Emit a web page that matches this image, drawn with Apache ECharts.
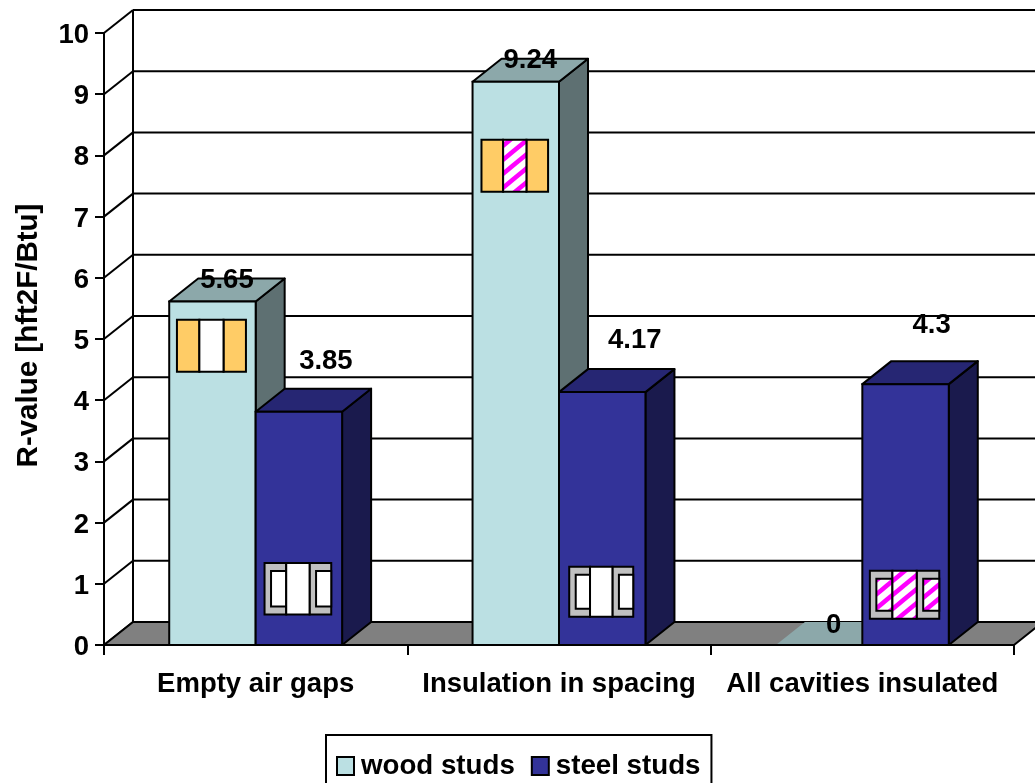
<!DOCTYPE html>
<html>
<head>
<meta charset="utf-8">
<style>
  html, body { margin: 0; padding: 0; background: #fff; overflow: hidden; }
  #chart { width: 1035px; height: 783px; }
</style>
<script src="https://cdn.jsdelivr.net/npm/echarts@6/dist/echarts.min.js"></script>
</head>
<body>
<div id="chart"></div>
<script>
// data
const categories = ["Empty air gaps", "Insulation in spacing", "All cavities insulated"];
const yTicks = [0, 1, 2, 3, 4, 5, 6, 7, 8, 9, 10];
const woodStuds = [5.65, 9.24, 0];
const steelStuds = [3.85, 4.17, 4.3];
const seriesNames = ["wood studs", "steel studs"];

// look of the extruded bars
const DEPTH_X = 29;
const DEPTH_Y = 23;
const BAR_RATIO = 0.285;
const TOP_DROP = 2.3; // the original's bar tops sit a touch under the scale
const FONT = 'bold 27.5px "Liberation Sans", Arial, sans-serif';
const woodColors = { front: "#BBE0E3", top: "#8CA8AA", side: "#5E7072" };
const steelColors = { front: "#333399", top: "#262673", side: "#1A1A4D" };

// the steel labels were dragged away from their bars in the original
const woodLabelShift = [[0, 1.5], [0, 2], [0, 1]];
const steelLabelShift = [[12.5, -27], [18, -29], [11.5, -36]];

// little wall section pictures sitting on the bars
// centre is in axis units, cavity: 0 empty, 1 insulated
const woodInsetCentre = [4.89, 7.83];
const woodInsetCavity = [0, 1];
const woodInsetSize = [[69, 52], [66.6, 52]];
const steelInsetCentre = [0.92, 0.87, 0.82];
const steelInsetCavity = [0, 0, 1];
const steelInsetSize = [[66.7, 51.6], [64, 50], [69.4, 48]];

function makeHatch() {
  const c = document.createElement("canvas");
  const w = 17;
  const h = 14;
  c.width = w;
  c.height = h;
  const ctx = c.getContext("2d");
  ctx.fillStyle = "#fff";
  ctx.fillRect(0, 0, w, h);
  ctx.strokeStyle = "#FF00FF";
  ctx.lineWidth = 4.5;
  [-w, 0, w].forEach(function (o) {
    ctx.beginPath();
    ctx.moveTo(o - w, h * 2);
    ctx.lineTo(o + w * 2, -h);
    ctx.stroke();
  });
  return { image: c, repeat: "repeat" };
}
const hatch = makeHatch();

function line(x1, y1, x2, y2, width) {
  return {
    type: "line",
    shape: { x1: x1, y1: y1, x2: x2, y2: y2 },
    style: { stroke: "#000", lineWidth: width || 2 },
  };
}

function poly(points, fill, noStroke) {
  return {
    type: "polygon",
    shape: { points: points },
    style: { fill: fill, stroke: noStroke ? null : "#000", lineWidth: 2, lineJoin: "round" },
  };
}

function box(x, y, w, h, fill) {
  return {
    type: "rect",
    shape: { x: x, y: y, width: w, height: h },
    style: { fill: fill, stroke: "#000", lineWidth: 2 },
  };
}

// back wall, side wall and the grid lines that run round them
function renderWall(params, api) {
  const sys = params.coordSys;
  const y = api.coord([0, api.value(0)])[1];
  const left = sys.x;
  const bx = left + DEPTH_X;
  const by = y - DEPTH_Y;
  const kids = [line(left, y, bx, by), line(bx, by, sys.x + sys.width + DEPTH_X, by)];
  if (api.value(0) === 10) {
    kids.push(line(bx, by, bx, api.coord([0, 0])[1] - DEPTH_Y));
  }
  return { type: "group", children: kids };
}

function renderFloor(params, api) {
  const sys = params.coordSys;
  const y = api.coord([0, 0])[1];
  const l = sys.x;
  const r = sys.x + sys.width;
  return poly(
    [[l, y], [l + DEPTH_X, y - DEPTH_Y], [r + DEPTH_X, y - DEPTH_Y], [r, y]],
    "#808080"
  );
}

function barRenderer(side, colors, labelShift) {
  return function (params, api) {
    const cat = api.value(0);
    const val = api.value(1);
    const band = api.size([1, 0])[0];
    const w = band * BAR_RATIO;
    const p = api.coord([cat, val]);
    const base = api.coord([cat, 0])[1];
    const x = side === 0 ? p[0] - w : p[0];
    const top = val === 0 ? p[1] : p[1] + TOP_DROP;
    const kids = [];
    const topFace = [
      [x, top], [x + DEPTH_X, top - DEPTH_Y],
      [x + w + DEPTH_X, top - DEPTH_Y], [x + w, top],
    ];
    if (val === 0) {
      kids.push(poly(topFace, colors.top, true));
    } else {
      kids.push(poly([[x + w, top], [x + w + DEPTH_X, top - DEPTH_Y], [x + w + DEPTH_X, base - DEPTH_Y], [x + w, base]], colors.side));
      kids.push(poly(topFace, colors.top));
      kids.push(box(x, top, w, base - top, colors.front));
    }
    const shift = labelShift[cat];
    kids.push({
      type: "text",
      z2: 20,
      style: {
        text: String(val),
        x: x + w / 2 + DEPTH_X / 2 + shift[0],
        y: p[1] + TOP_DROP - DEPTH_Y + shift[1],
        font: FONT,
        fill: "#000",
        align: "center",
        verticalAlign: "middle",
      },
    });
    return { type: "group", children: kids };
  };
}

// one inset = three studs/cavity slices, drawn with the bar's scale
function insetRenderer(side, centres, cavities, sizes) {
  return function (params, api) {
    const cat = api.value(0);
    const band = api.size([1, 0])[0];
    const w = band * BAR_RATIO;
    const p = api.coord([cat, centres[cat]]);
    const cx = (side === 0 ? p[0] - w / 2 : p[0] + w / 2) - 1;
    const iw = sizes[cat][0];
    const ih = sizes[cat][1];
    const x0 = cx - iw / 2;
    const y0 = p[1] - ih / 2;
    const sw = iw * 0.325;
    const mw = iw - sw * 2;
    const cavity = cavities[cat] ? hatch : "#fff";
    const kids = [];
    if (side === 0) {
      kids.push(box(x0, y0, sw, ih, "#FFCC66"));
      kids.push(box(x0 + sw + mw, y0, sw, ih, "#FFCC66"));
    } else {
      [x0, x0 + sw + mw].forEach(function (sx) {
        kids.push(box(sx, y0, sw, ih, "#C0C0C0"));
        kids.push(box(sx + 6.5, y0 + 8, sw - 6.5, ih - 16, cavity));
      });
    }
    kids.push(box(x0 + sw, y0, mw, ih, cavities[cat] ? hatch : "#fff"));
    return { type: "group", children: kids };
  };
}

const chart = echarts.init(document.getElementById("chart"), null, { renderer: "canvas" });

const option = {
  animation: false,
  backgroundColor: "#fff",
  textStyle: { fontFamily: "Liberation Sans" },
  grid: { left: 104, top: 33, width: 910, height: 612, outerBoundsMode: "none" },
  legend: {
    left: 326,
    top: 735,
    padding: [17, 11, 20, 10],
    itemGap: 16,
    itemWidth: 17,
    itemHeight: 18,
    borderColor: "#000",
    borderWidth: 2,
    backgroundColor: "#fff",
    textStyle: { fontFamily: "Liberation Sans", fontWeight: "bold", fontSize: 27.7, color: "#000", padding: [0, 0, 0, 2] },
    data: [
      { name: seriesNames[0], icon: "rect", itemStyle: { color: woodColors.front, borderColor: "#000", borderWidth: 2 } },
      { name: seriesNames[1], icon: "rect", itemStyle: { color: steelColors.front, borderColor: "#000", borderWidth: 2 } },
    ],
  },
  xAxis: {
    type: "category",
    data: categories,
    z: 5,
    axisLine: { show: true, lineStyle: { color: "#000", width: 2 } },
    axisTick: { show: true, alignWithLabel: false, length: 10, lineStyle: { color: "#000", width: 2 } },
    axisLabel: {
      interval: 0,
      margin: 25,
      color: "#000",
      fontFamily: "Liberation Sans",
      fontWeight: "bold",
      fontSize: 27.5,
    },
  },
  yAxis: {
    type: "value",
    min: 0,
    max: 10,
    interval: 1,
    z: 5,
    name: "R-value [hft2F/Btu]",
    nameLocation: "middle",
    nameRotate: 90,
    nameGap: 60,
    nameTextStyle: { color: "#000", fontFamily: "Liberation Sans", fontWeight: "bold", fontSize: 29.5, padding: [0, 0, 0, 7] },
    axisLine: { show: true, lineStyle: { color: "#000", width: 2 } },
    axisTick: { show: true, length: 9, lineStyle: { color: "#000", width: 2 } },
    axisLabel: {
      margin: 15,
      formatter: "{v|{value}}",
      rich: {
        v: {
          padding: [5, 0, 0, 0],
          color: "#000",
          fontFamily: "Liberation Sans",
          fontWeight: "bold",
          fontSize: 27.5,
        },
      },
    },
    splitLine: { show: false },
  },
  series: [
    {
      type: "custom",
      name: "wall",
      coordinateSystem: "cartesian2d",
      renderItem: renderWall,
      data: yTicks.map(function (v) { return [v]; }),
      encode: { y: 0 },
      silent: true,
      z: 2,
    },
    {
      type: "custom",
      name: "floor",
      coordinateSystem: "cartesian2d",
      renderItem: renderFloor,
      data: [[0, 0]],
      silent: true,
      z: 3,
    },
    {
      type: "custom",
      name: seriesNames[0],
      coordinateSystem: "cartesian2d",
      renderItem: barRenderer(0, woodColors, woodLabelShift),
      data: woodStuds.map(function (v, i) { return [i, v]; }),
      encode: { x: 0, y: 1 },
      z: 4,
    },
    {
      type: "custom",
      name: seriesNames[1],
      coordinateSystem: "cartesian2d",
      renderItem: barRenderer(1, steelColors, steelLabelShift),
      data: steelStuds.map(function (v, i) { return [i, v]; }),
      encode: { x: 0, y: 1 },
      z: 4.5,
    },
    {
      type: "custom",
      name: "wood insets",
      coordinateSystem: "cartesian2d",
      renderItem: insetRenderer(0, woodInsetCentre, woodInsetCavity, woodInsetSize),
      data: woodInsetCentre.map(function (v, i) { return [i, v]; }),
      encode: { x: 0, y: 1 },
      silent: true,
      z: 6,
    },
    {
      type: "custom",
      name: "steel insets",
      coordinateSystem: "cartesian2d",
      renderItem: insetRenderer(1, steelInsetCentre, steelInsetCavity, steelInsetSize),
      data: steelInsetCentre.map(function (v, i) { return [i, v]; }),
      encode: { x: 0, y: 1 },
      silent: true,
      z: 6,
    },
  ],
};
chart.setOption(option);
</script>
</body>
</html>
